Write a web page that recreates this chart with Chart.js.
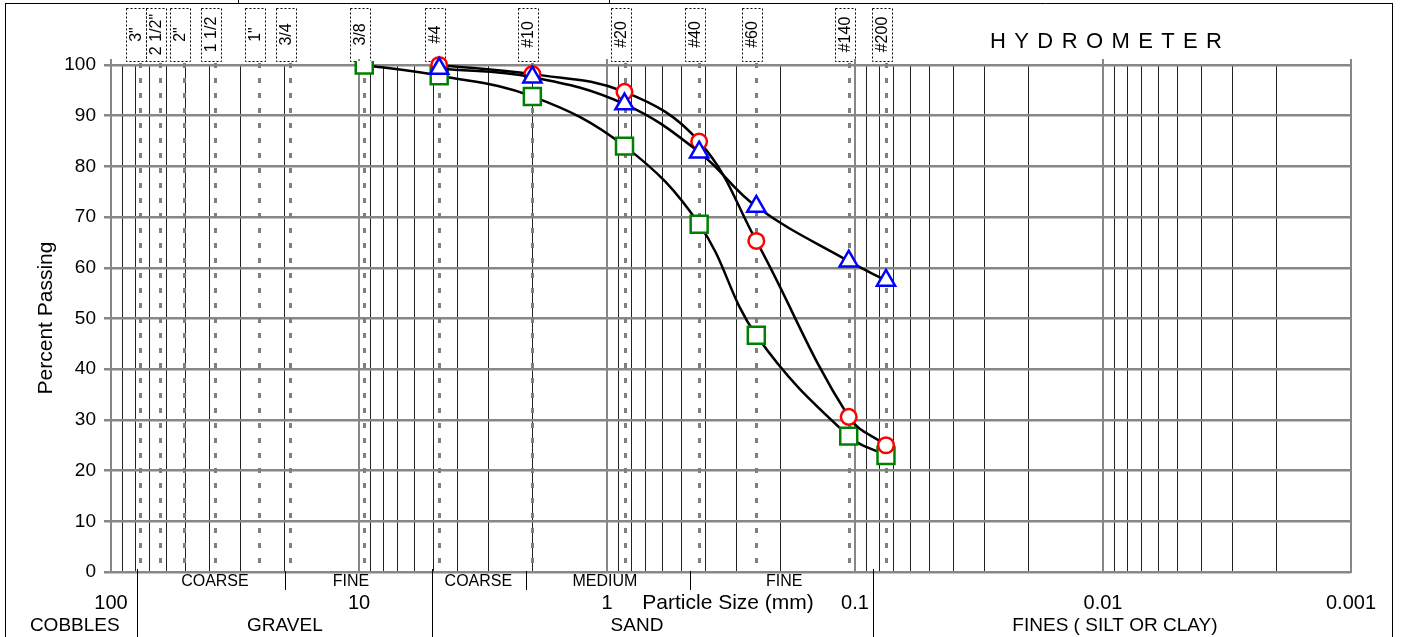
<!DOCTYPE html>
<html>
<head>
<meta charset="utf-8">
<script src="https://cdn.jsdelivr.net/npm/chart.js@4.4.1/dist/chart.umd.min.js"></script>
<style>
  html, body { margin: 0; padding: 0; background: #fff; }
  canvas { display: block; }
</style>
</head>
<body>
<canvas id="gradation" width="1402" height="637"></canvas>
<script>
// sieve openings (mm) and their labels
const sieveNames = ['3"', '2 1/2"', '2"', '1 1/2', '1"', '3/4', '3/8', '#4', '#10', '#20', '#40', '#60', '#140', '#200'];
const sieveSizes = [76.2, 63.5, 50.8, 38.1, 25.4, 19.05, 9.525, 4.75, 2.0, 0.85, 0.425, 0.25, 0.106, 0.075];

// test results, percent passing
const sizesA = [4.75, 2.0, 0.85, 0.425, 0.25, 0.106, 0.075];
const passingBlue = [99.3, 97.6, 92.3, 82.8, 72.1, 61.3, 57.5];
const passingRed = [100, 98.2, 94.7, 84.9, 65.3, 30.6, 25.0];
const sizesB = [9.525, 4.75, 2.0, 0.85, 0.425, 0.25, 0.106, 0.075];
const passingGreen = [100, 97.9, 93.8, 84.0, 68.6, 46.7, 26.8, 23.0];

// axis labels
const xTickValues = [100, 10, 1, 0.1, 0.01, 0.001];
const xTickLabels = ['100', '10', '1', '0.1', '0.01', '0.001'];
const yTicks = [0, 10, 20, 30, 40, 50, 60, 70, 80, 90, 100];

// soil classification bands under the axis
const subLabels = ['COARSE', 'FINE', 'COARSE', 'MEDIUM', 'FINE'];
const subLabelAt = [38.1, 10.77, 3.30, 1.02, 0.193];
const mainLabels = ['COBBLES', 'GRAVEL', 'SAND', 'FINES ( SILT OR CLAY)'];
const mainLabelAt = [140, 19.9, 0.757, 0.00895];
const mainBounds = [78.5, 5.08, 0.0846];
const subBounds = [19.9, 2.12, 0.463];

const FONT = '"Liberation Sans", Arial, sans-serif';
Chart.defaults.font.family = FONT;

const gridSizes = [];
for (let k = -3; k <= 1; k++) {
  for (let m = 1; m <= 9; m++) gridSizes.push(+(m * Math.pow(10, k)).toPrecision(6));
}
gridSizes.push(100);
const isDecade = v => Math.abs(Math.log10(v) - Math.round(Math.log10(v))) < 1e-9;

const toPoints = (xs, ys) => xs.map((x, i) => ({ x: x, y: ys[i] }));

const frame = {
  id: 'frame',
  beforeDatasetsDraw(chart) {
    const { ctx, chartArea: a, scales: { x } } = chart;
    ctx.save();
    // sieve lines
    ctx.strokeStyle = '#7f7f7f';
    ctx.lineWidth = 3;
    ctx.setLineDash([5, 10]);
    sieveSizes.forEach(s => {
      const px = Math.round(x.getPixelForValue(s)) + 0.5;
      ctx.beginPath();
      ctx.moveTo(px, 63);
      ctx.lineTo(px, a.bottom);
      ctx.stroke();
    });
    // label boxes
    ctx.lineWidth = 1;
    ctx.setLineDash([2, 2]);
    ctx.strokeStyle = '#000';
    ctx.fillStyle = '#000';
    ctx.font = '16px ' + FONT;
    ctx.textAlign = 'center';
    ctx.textBaseline = 'middle';
    sieveSizes.forEach((s, i) => {
      const cx = Math.round(x.getPixelForValue(s)) - 4;
      ctx.strokeRect(cx - 10 + 0.5, 8.5, 20, 53);
      ctx.save();
      ctx.translate(cx + 1, 34.5);
      ctx.rotate(-Math.PI / 2);
      ctx.fillText(sieveNames[i], 0, 0);
      ctx.restore();
    });
    ctx.setLineDash([]);
    // decade ticks above the plot
    ctx.strokeStyle = '#878787';
    ctx.lineWidth = 2;
    xTickValues.forEach(v => {
      const px = x.getPixelForValue(v);
      ctx.beginPath();
      ctx.moveTo(px, a.top - 6);
      ctx.lineTo(px, a.top);
      ctx.stroke();
    });
    ctx.restore();
  },
  afterDraw(chart) {
    const { ctx, chartArea: a, scales: { x } } = chart;
    ctx.save();
    ctx.fillStyle = '#000';
    ctx.strokeStyle = '#000';
    ctx.lineWidth = 1;
    // outer frame
    ctx.beginPath();
    ctx.moveTo(5, 3.5); ctx.lineTo(1392, 3.5);
    ctx.moveTo(5.5, 3); ctx.lineTo(5.5, 637);
    ctx.moveTo(1392.5, 3); ctx.lineTo(1392.5, 637);
    ctx.moveTo(238.5, 0); ctx.lineTo(238.5, 3);
    ctx.moveTo(609.5, 0); ctx.lineTo(609.5, 3);
    mainBounds.forEach(v => {
      const px = Math.round(x.getPixelForValue(v)) + 0.5;
      ctx.moveTo(px, a.bottom - 3); ctx.lineTo(px, 637);
    });
    subBounds.forEach(v => {
      const px = Math.round(x.getPixelForValue(v)) + 0.5;
      ctx.moveTo(px, a.bottom - 1); ctx.lineTo(px, a.bottom + 18);
    });
    ctx.stroke();

    ctx.textAlign = 'center';
    ctx.textBaseline = 'middle';
    ctx.font = '16px ' + FONT;
    subLabels.forEach((t, i) => ctx.fillText(t, x.getPixelForValue(subLabelAt[i]), a.bottom + 10));
    ctx.font = '20px ' + FONT;
    xTickLabels.forEach((t, i) => ctx.fillText(t, x.getPixelForValue(xTickValues[i]), a.bottom + 31));
    ctx.font = '21px ' + FONT;
    ctx.fillText('Particle Size (mm)', x.getPixelForValue(0.325), a.bottom + 31);
    ctx.font = '19px ' + FONT;
    mainLabels.forEach((t, i) => ctx.fillText(t, x.getPixelForValue(mainLabelAt[i]), a.bottom + 54));

    // y title
    ctx.save();
    ctx.translate(46, 318);
    ctx.rotate(-Math.PI / 2);
    ctx.font = '21px ' + FONT;
    ctx.fillText('Percent Passing', 0, 0);
    ctx.restore();

    // hydrometer heading, letter spaced
    ctx.font = '22px ' + FONT;
    ctx.textAlign = 'left';
    const word = 'HYDROMETER';
    let w = 0;
    for (const ch of word) w += ctx.measureText(ch).width;
    const gap = (232 - w) / (word.length - 1);
    let cx = 990;
    for (const ch of word) {
      ctx.fillText(ch, cx, 42);
      cx += ctx.measureText(ch).width + gap;
    }
    ctx.restore();
  }
};

const pointCommon = {
  borderColor: '#000',
  borderWidth: 2.5,
  pointBackgroundColor: '#fff',
  pointBorderWidth: 2.5,
  tension: 0.4,
  fill: false
};

new Chart(document.getElementById('gradation'), {
  type: 'line',
  data: {
    datasets: [
      Object.assign({ label: 'Sample 1', data: toPoints(sizesA, passingBlue), pointStyle: 'triangle', pointRadius: 10.5, pointBorderColor: '#0000ff', clip: false }, pointCommon),
      Object.assign({ label: 'Sample 2', data: toPoints(sizesA, passingRed), pointStyle: 'circle', pointRadius: 7.8, pointBorderColor: '#ff0000', clip: false }, pointCommon),
      Object.assign({ label: 'Sample 3', data: toPoints(sizesB, passingGreen), pointStyle: 'rect', pointRadius: 12, pointBorderColor: '#008000',
        clip: { left: false, top: 4, right: false, bottom: false } }, pointCommon)
    ]
  },
  options: {
    responsive: false,
    animation: false,
    events: [],
    layout: { padding: { left: 0, right: 51, top: 65, bottom: 0 }, autoPadding: false },
    plugins: { legend: { display: false }, tooltip: { enabled: false } },
    scales: {
      x: {
        type: 'logarithmic',
        reverse: true,
        min: 0.001,
        max: 100,
        afterBuildTicks: s => { s.ticks = gridSizes.map(v => ({ value: v })); },
        afterFit: s => { s.height = 65; },
        ticks: { display: false },
        grid: {
          drawTicks: false,
          color: c => (c.tick && isDecade(c.tick.value)) ? '#878787' : '#222',
          lineWidth: c => (c.tick && isDecade(c.tick.value)) ? 2 : 1
        },
        border: { color: '#878787', width: 2 }
      },
      y: {
        min: 0,
        max: 100,
        afterBuildTicks: s => { s.ticks = yTicks.map(v => ({ value: v })); },
        afterFit: s => { s.width = 111; },
        ticks: { color: '#000', font: { size: 19 }, padding: 8 },
        grid: { color: '#878787', lineWidth: 2.5, tickLength: 7 },
        border: { color: '#878787', width: 2 }
      }
    }
  },
  plugins: [frame]
});
</script>
</body>
</html>
